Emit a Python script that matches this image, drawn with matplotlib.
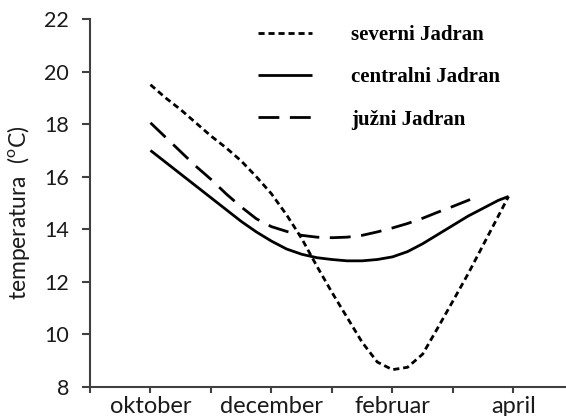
import matplotlib
matplotlib.use("Agg")
import matplotlib.pyplot as plt

# Months: 0 = septembar, 1 = oktobar ... 7 = april
x_sev = [1.0, 1.25, 1.5, 1.75, 2.0, 2.25, 2.5, 2.75, 3.0, 3.25, 3.5, 3.75, 4.0,
         4.25, 4.5, 4.75, 5.0, 5.25, 5.5, 5.75, 6.0, 6.25, 6.5, 6.75, 6.92]
y_sev = [19.5, 19.0, 18.55, 18.05, 17.55, 17.1, 16.6, 16.0, 15.35, 14.55, 13.65, 12.6, 11.6,
         10.65, 9.7, 8.95, 8.66, 8.75, 9.25, 10.25, 11.27, 12.3, 13.4, 14.5, 15.25]

x_cen = [1.0, 1.25, 1.5, 1.75, 2.0, 2.25, 2.5, 2.75, 3.0, 3.25, 3.5, 3.75, 4.0,
         4.25, 4.5, 4.75, 5.0, 5.25, 5.5, 5.75, 6.0, 6.25, 6.5, 6.75, 6.92]
y_cen = [17.0, 16.55, 16.1, 15.65, 15.2, 14.75, 14.3, 13.9, 13.55, 13.25, 13.05, 12.92, 12.85,
         12.8, 12.8, 12.85, 12.95, 13.15, 13.45, 13.8, 14.15, 14.5, 14.8, 15.1, 15.25]

x_juz = [1.0, 1.25, 1.5, 1.75, 2.0, 2.25, 2.5, 2.75, 3.0, 3.25, 3.5, 3.75, 4.0,
         4.25, 4.5, 4.75, 5.0, 5.25, 5.5, 5.75, 6.0, 6.25, 6.38]
y_juz = [18.05, 17.5, 16.95, 16.4, 15.9, 15.35, 14.85, 14.4, 14.1, 13.92, 13.77, 13.7, 13.68,
         13.7, 13.77, 13.9, 14.05, 14.22, 14.42, 14.65, 14.87, 15.1, 15.22]

series_labels = ["severni Jadran", "centralni Jadran", "južni Jadran"]
tick_positions = [0, 1, 2, 3, 4, 5, 6, 7]
tick_labels = ["", "oktober", "", "december", "", "februar", "", "april"]
y_ticks = [8, 10, 12, 14, 16, 18, 20, 22]

fig = plt.figure(figsize=(5.66, 4.16), dpi=100)
ax = fig.add_axes([90 / 566, 1 - 387 / 416, 1 - 90 / 566, (387 - 19) / 416])

lw = 2.0
l1, = ax.plot(x_sev, y_sev, color="black", lw=lw, dashes=(2.2, 1.4), dash_capstyle="butt")
l2, = ax.plot(x_cen, y_cen, color="black", lw=lw, solid_capstyle="butt")
l3, = ax.plot(x_juz, y_juz, color="black", lw=lw, dashes=(7.5, 3.8), dash_capstyle="butt")

ax.set_xlim(0, 7.87)
ax.set_ylim(8, 22)
ax.set_yticks(y_ticks)
ax.set_xticks(tick_positions)
ax.set_xticklabels(tick_labels)

for s in ["top", "right"]:
    ax.spines[s].set_visible(False)
for s in ["left", "bottom"]:
    ax.spines[s].set_color("#404040")
    ax.spines[s].set_linewidth(1.5)

tickfont = "Lato"
ax.tick_params(axis="y", direction="out", length=6, width=1.5, color="#404040", pad=9,
               labelsize=15.5, labelcolor="#1a1a1a")
ax.tick_params(axis="x", direction="out", length=4, width=1.5, color="#404040", pad=2.5,
               labelsize=17, labelcolor="#1a1a1a")
for lab in ax.get_xticklabels() + ax.get_yticklabels():
    lab.set_fontfamily(tickfont)

ax.set_ylabel("temperatura  ($^{\\mathregular{o}}$C)", fontsize=16.5, fontfamily=tickfont,
              color="#1a1a1a")
ax.yaxis.set_label_coords(-0.122, 0.473)

leg = ax.legend([l1, l2, l3], series_labels, loc="upper left",
                bbox_to_anchor=(258 / 566, 1 - 25 / 416), bbox_transform=fig.transFigure,
                frameon=False, borderpad=0, borderaxespad=0, handlelength=2.6,
                handletextpad=1.85, labelspacing=1.07,
                prop={"family": "Liberation Serif", "weight": "bold", "size": 15})

fig.savefig("out.png", dpi=100)
